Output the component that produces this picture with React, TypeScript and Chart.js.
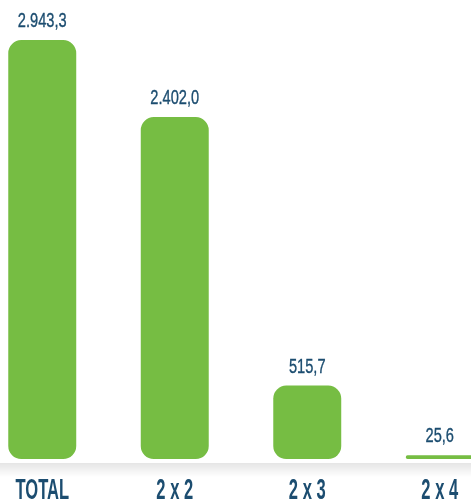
import React, { useEffect, useRef } from "react";
import { Chart, registerables } from "chart.js";

Chart.register(...registerables);

const categories = ["TOTAL", "2 x 2", "2 x 3", "2 x 4"];
const values = [2943.3, 2402.0, 515.7, 25.6];

const BAR_COLOR = "#76bd43";
const TEXT_COLOR = "#1c4d70";

function formatValue(v: number): string {
  const [intPart, dec] = v.toFixed(1).split(".");
  const withDots = intPart.replace(/\B(?=(\d{3})+(?!\d))/g, ".");
  return withDots + "," + dec;
}

function drawScaledText(
  ctx: CanvasRenderingContext2D,
  text: string,
  x: number,
  y: number,
  font: string,
  sx: number,
  stroke: number
) {
  ctx.save();
  ctx.translate(x, y);
  ctx.scale(sx, 1);
  ctx.font = font;
  ctx.fillStyle = TEXT_COLOR;
  ctx.textAlign = "center";
  ctx.textBaseline = "alphabetic";
  ctx.fillText(text, 0, 0);
  if (stroke > 0) {
    ctx.strokeStyle = TEXT_COLOR;
    ctx.lineWidth = stroke;
    ctx.strokeText(text, 0, 0);
  }
  ctx.restore();
}

const labelPlugin = {
  id: "labelPlugin",
  beforeDatasetsDraw(chart: any) {
    const { ctx, chartArea } = chart;
    const top = chartArea.bottom + 4;
    const g = ctx.createLinearGradient(0, top, 0, top + 14);
    g.addColorStop(0, "rgba(0,0,0,0.10)");
    g.addColorStop(1, "rgba(0,0,0,0)");
    ctx.save();
    ctx.fillStyle = g;
    ctx.fillRect(0, top, chart.width, 14);
    ctx.restore();
  },
  afterDatasetsDraw(chart: any) {
    const { ctx, chartArea } = chart;
    const meta = chart.getDatasetMeta(0);
    meta.data.forEach((bar: any, i: number) => {
      drawScaledText(
        ctx,
        formatValue(values[i]),
        bar.x,
        bar.y - 13,
        "19.5px 'Liberation Sans', Arial, sans-serif",
        0.75,
        0.35
      );
    });
    const xs = chart.scales.x;
    categories.forEach((c, i) => {
      drawScaledText(
        ctx,
        c,
        xs.getPixelForValue(i),
        chartArea.bottom + 40,
        "bold 29px 'Liberation Sans', Arial, sans-serif",
        0.57,
        0
      );
    });
  },
};

export default function App() {
  const ref = useRef<HTMLCanvasElement | null>(null);
  useEffect(() => {
    if (!ref.current) return;
    const chart = new Chart(ref.current, {
      type: "bar",
      data: {
        labels: categories,
        datasets: [
          {
            data: values,
            backgroundColor: BAR_COLOR,
            borderRadius: 13,
            borderSkipped: false,
            barPercentage: 0.513,
            categoryPercentage: 1,
          },
        ],
      },
      options: {
        responsive: false,
        animation: false,
        layout: { padding: { top: 32, bottom: 42, left: 0, right: 0 } },
        plugins: { legend: { display: false }, tooltip: { enabled: false } },
        scales: {
          x: { display: false },
          y: { display: false, min: 0, max: 3000 },
        },
      },
      plugins: [labelPlugin],
    });
    return () => chart.destroy();
  }, []);
  return (
    <div
      style={{
        position: "fixed",
        left: 0,
        top: 0,
        width: 471,
        height: 501,
        overflow: "hidden",
        background: "#fff",
      }}
    >
      <canvas
        ref={ref}
        width={530}
        height={501}
        style={{ position: "absolute", left: -24, top: 0 }}
      />
    </div>
  );
}
